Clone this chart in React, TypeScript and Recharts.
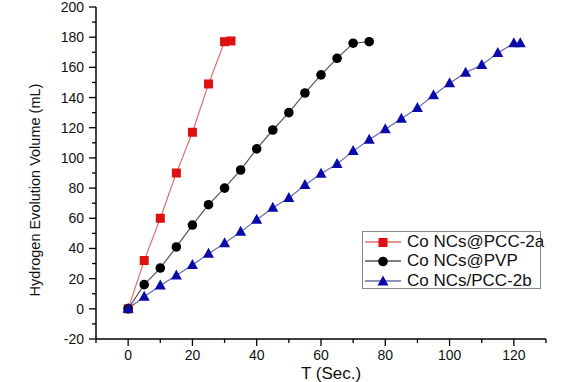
import { Line, LineChart, XAxis, YAxis } from 'recharts';

const redTimes = [0, 5, 10, 15, 20, 25, 30, 32];
const redVolumes = [0, 32, 60, 90, 117, 149, 177, 177.5];

const blackTimes = [0, 5, 10, 15, 20, 25, 30, 35, 40, 45, 50, 55, 60, 65, 70, 75];
const blackVolumes = [0, 16, 27, 41, 55.5, 69, 80, 92, 106, 118.5, 130, 143, 155, 166, 176, 177];

const blueTimes = [
  0, 5, 10, 15, 20, 25, 30, 35, 40, 45, 50, 55, 60, 65, 70, 75, 80, 85, 90, 95, 100, 105, 110, 115, 120,
  122,
];
const blueVolumes = [
  0, 8, 15.5, 22, 29, 36.5, 43.5, 51, 59, 67, 73.5, 82, 89.5, 96, 104.5, 112, 119, 126, 133, 141.5, 149.5,
  156.5, 161.5, 169.5, 176, 176,
];

const xTicks = [-10, 0, 10, 20, 30, 40, 50, 60, 70, 80, 90, 100, 110, 120, 130];
const yTicks = [-20, -10, 0, 10, 20, 30, 40, 50, 60, 70, 80, 90, 100, 110, 120, 130, 140, 150, 160, 170, 180, 190, 200];

const FONT = '"Liberation Sans", Arial, sans-serif';

const toPoints = (xs: number[], ys: number[]) => xs.map((x, i) => ({ x, y: ys[i] }));

const series = [
  { name: 'Co NCs@PCC-2a', data: toPoints(redTimes, redVolumes), line: '#e07070', fill: '#dd1111', shape: 'square' },
  { name: 'Co NCs@PVP', data: toPoints(blackTimes, blackVolumes), line: '#555555', fill: '#000000', shape: 'circle' },
  { name: 'Co NCs/PCC-2b', data: toPoints(blueTimes, blueVolumes), line: '#6a6aa8', fill: '#0a0aaa', shape: 'triangle' },
];

function Marker({ cx, cy, shape, fill }: { cx: number; cy: number; shape: string; fill: string }) {
  if (shape === 'square') return <rect x={cx - 4.5} y={cy - 4.5} width={9} height={9} fill={fill} />;
  if (shape === 'circle') return <circle cx={cx} cy={cy} r={4.8} fill={fill} />;
  return <polygon points={`${cx},${cy - 6} ${cx - 5.5},${cy + 4} ${cx + 5.5},${cy + 4}`} fill={fill} />;
}

function YTick(props: any) {
  const { x, y, payload } = props;
  const v = payload.value;
  const major = v % 20 === 0;
  const axisX = x + 10;
  return (
    <g>
      <line x1={axisX} x2={axisX - (major ? 7 : 4)} y1={y} y2={y} stroke="#000" strokeWidth={1.3} />
      {major && (
        <text x={x - 2} y={y} dy={5} textAnchor="end" fontSize={14} fontFamily={FONT} fill="#111">
          {v}
        </text>
      )}
    </g>
  );
}

function XTick(props: any) {
  const { x, y, payload } = props;
  const v = payload.value;
  const major = v % 20 === 0;
  const axisY = y - 10;
  return (
    <g>
      <line x1={x} x2={x} y1={axisY} y2={axisY + (major ? 7 : 4)} stroke="#000" strokeWidth={1.3} />
      {major && (
        <text x={x} y={y + 11} textAnchor="middle" fontSize={14} fontFamily={FONT} fill="#111">
          {v}
        </text>
      )}
    </g>
  );
}

function LegendBox() {
  return (
    <div
      style={{
        position: 'absolute',
        left: 362,
        top: 231,
        width: 175,
        height: 56,
        border: '1.5px solid #888',
        background: '#fff',
        padding: '0 0 0 2px',
        fontFamily: FONT,
        fontSize: 17,
        color: '#111',
      }}
    >
      {series.map((s) => (
        <div key={s.name} style={{ display: 'flex', alignItems: 'center', height: 19.5 }}>
          <svg width={38} height={14} style={{ marginRight: 4, flexShrink: 0 }}>
            <line x1={0} x2={36} y1={7} y2={7} stroke={s.line} strokeWidth={1.3} />
            <Marker cx={18} cy={7.5} shape={s.shape} fill={s.fill} />
          </svg>
          <span style={{ whiteSpace: 'nowrap' }}>{s.name}</span>
        </div>
      ))}
    </div>
  );
}

export default function App() {
  return (
    <div style={{ position: 'absolute', left: 0, top: 0, width: 571, height: 382, background: '#fff' }}>
      <LineChart width={571} height={382} margin={{ top: 7, right: 25, bottom: 0, left: 0 }}>
        <XAxis
          dataKey="x"
          type="number"
          domain={[-10, 130]}
          ticks={xTicks}
          interval={0}
          tickLine={false}
          tickSize={5}
          tickMargin={5}
          tick={<XTick />}
          axisLine={{ stroke: '#000', strokeWidth: 1.5 }}
          height={43}
          label={{
            content: () => (
              <text x={331} y={379} textAnchor="middle" fontSize={17} fontFamily={FONT} fill="#111">
                T (Sec.)
              </text>
            ),
          }}
        />
        <YAxis
          dataKey="y"
          type="number"
          domain={[-20, 200]}
          ticks={yTicks}
          interval={0}
          tickLine={false}
          tickSize={5}
          tickMargin={5}
          tick={<YTick />}
          axisLine={{ stroke: '#000', strokeWidth: 1.5 }}
          width={96}
          label={{
            content: () => (
              <text
                transform="translate(40,190) rotate(-90)"
                textAnchor="middle"
                fontSize={14.5}
                fontFamily={FONT}
                fill="#111"
              >
                Hydrogen Evolution Volume (mL)
              </text>
            ),
          }}
        />
        {series.map((s) => (
          <Line
            key={s.name}
            data={s.data}
            dataKey="y"
            name={s.name}
            stroke={s.line}
            strokeWidth={1.2}
            isAnimationActive={false}
            dot={(p: any) => <Marker key={`${s.name}-${p.index}`} cx={p.cx} cy={p.cy} shape={s.shape} fill={s.fill} />}
            activeDot={false}
          />
        ))}
      </LineChart>
      <LegendBox />
    </div>
  );
}
